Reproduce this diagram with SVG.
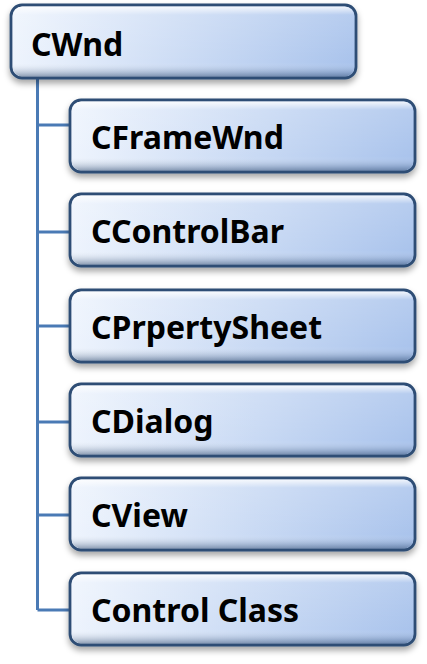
<svg xmlns="http://www.w3.org/2000/svg" width="427" height="664" viewBox="0 0 427 664">
<defs>
<linearGradient id="fillH" x1="0" y1="0" x2="1" y2="0">
<stop offset="0" stop-color="#eef4fd"/>
<stop offset="1" stop-color="#a9c3ec"/>
</linearGradient>
<linearGradient id="bevel" x1="0" y1="0" x2="0" y2="1">
<stop offset="0" stop-color="#ffffff" stop-opacity="0.85"/>
<stop offset="0.12" stop-color="#ffffff" stop-opacity="0.15"/>
<stop offset="0.8" stop-color="#ffffff" stop-opacity="0"/>
<stop offset="0.95" stop-color="#1f3a5f" stop-opacity="0.25"/>
<stop offset="1" stop-color="#1f3a5f" stop-opacity="0.45"/>
</linearGradient>
<filter id="sh" x="-10%" y="-20%" width="120%" height="150%">
<feDropShadow dx="0" dy="4" stdDeviation="3" flood-color="#000" flood-opacity="0.35"/>
</filter>
</defs>
<style>
.box{fill:url(#fillH);stroke:#2e4d74;stroke-width:2.8;filter:url(#sh)}
.bev{fill:url(#bevel);stroke:none}
.lbl{font-family:"Noto Sans","Liberation Sans",sans-serif;font-weight:bold;font-size:32px;fill:#000}
.conn{stroke:#4a7ab5;stroke-width:3;fill:none}
</style>
<g id="connectors">
<path class="conn" d="M37.5 78 V610"/>
<path class="conn" d="M37.5 125 H71"/>
<path class="conn" d="M37.5 232 H71"/>
<path class="conn" d="M37.5 326 H71"/>
<path class="conn" d="M37.5 422 H71"/>
<path class="conn" d="M37.5 515 H71"/>
<path class="conn" d="M37.5 610 H71"/>
</g>
<g id="CWnd">
<rect class="box" x="11" y="5" width="345" height="73" rx="11"/>
<rect class="bev" x="12.5" y="6.5" width="342" height="70" rx="10"/>
<text class="lbl" x="31" y="56">CWnd</text>
</g>
<g id="CFrameWnd">
<rect class="box" x="70" y="100" width="345" height="72" rx="11"/>
<rect class="bev" x="71.5" y="101.5" width="342" height="69" rx="10"/>
<text class="lbl" x="91" y="149">CFrameWnd</text>
</g>
<g id="CControlBar">
<rect class="box" x="70" y="194" width="345" height="72" rx="11"/>
<rect class="bev" x="71.5" y="195.5" width="342" height="69" rx="10"/>
<text class="lbl" x="91" y="243">CControlBar</text>
</g>
<g id="CPrpertySheet">
<rect class="box" x="70" y="290" width="345" height="72" rx="11"/>
<rect class="bev" x="71.5" y="291.5" width="342" height="69" rx="10"/>
<text class="lbl" x="91" y="339">CPrpertySheet</text>
</g>
<g id="CDialog">
<rect class="box" x="70" y="384" width="345" height="72" rx="11"/>
<rect class="bev" x="71.5" y="385.5" width="342" height="69" rx="10"/>
<text class="lbl" x="91" y="433">CDialog</text>
</g>
<g id="CView">
<rect class="box" x="70" y="478" width="345" height="72" rx="11"/>
<rect class="bev" x="71.5" y="479.5" width="342" height="69" rx="10"/>
<text class="lbl" x="91" y="527">CView</text>
</g>
<g id="ControlClass">
<rect class="box" x="70" y="573" width="345" height="72" rx="11"/>
<rect class="bev" x="71.5" y="574.5" width="342" height="69" rx="10"/>
<text class="lbl" x="91" y="622">Control Class</text>
</g>
</svg>
